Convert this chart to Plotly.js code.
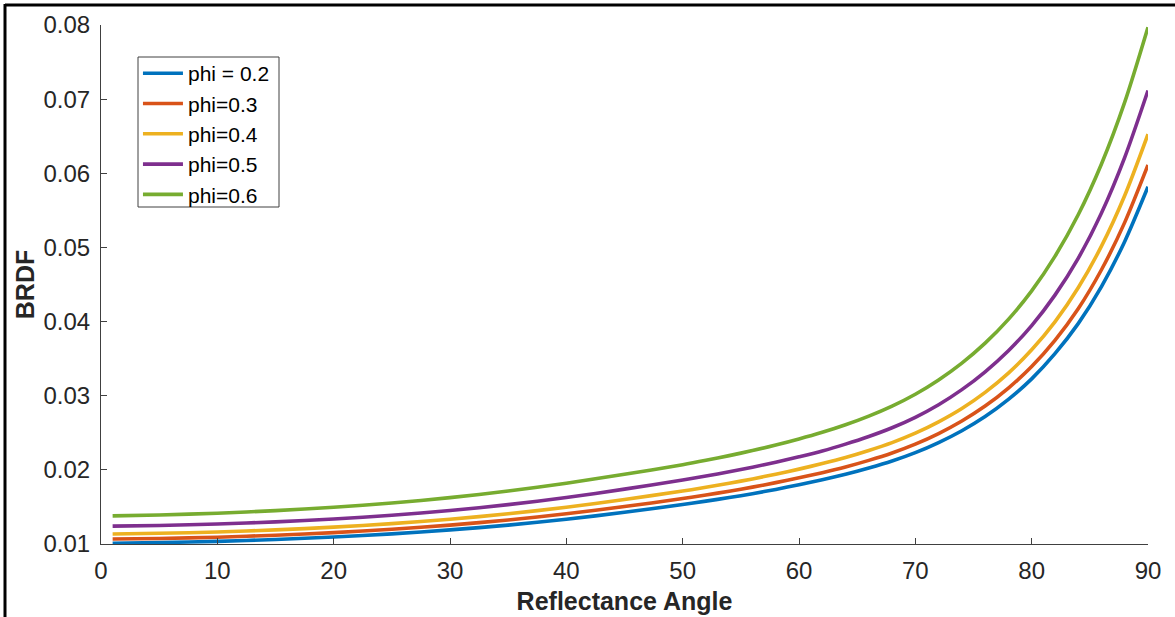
<!DOCTYPE html>
<html>
<head>
<meta charset="utf-8">
<script src="https://cdn.plot.ly/plotly-3.0.1.min.js"></script>
<style>
  html, body { margin: 0; padding: 0; background: #ffffff; }
  #chart { width: 1175px; height: 617px; }
</style>
</head>
<body>
<div id="chart"></div>
<script>
const angles = [1, 5, 10, 15, 20, 25, 30, 35, 40, 45, 50, 52, 54, 56, 58, 60, 62, 64, 66, 68, 70, 72, 74, 76, 78, 80, 82, 84, 86, 88, 90];

const seriesNames = ["phi = 0.2", "phi=0.3", "phi=0.4", "phi=0.5", "phi=0.6"];

const brdfPhi02 = [0.01010, 0.01019, 0.01036, 0.01061, 0.01094, 0.01137, 0.01190, 0.01255, 0.01334, 0.01428, 0.01532, 0.01578, 0.01626, 0.01679, 0.01736, 0.01800, 0.01867, 0.01940, 0.02025, 0.02119, 0.02232, 0.02368, 0.02528, 0.02719, 0.02950, 0.03227, 0.03567, 0.03972, 0.04472, 0.05081, 0.05818];
const brdfPhi03 = [0.01067, 0.01075, 0.01092, 0.01119, 0.01154, 0.01199, 0.01255, 0.01324, 0.01407, 0.01505, 0.01613, 0.01661, 0.01712, 0.01767, 0.01828, 0.01892, 0.01962, 0.02039, 0.02128, 0.02228, 0.02347, 0.02490, 0.02659, 0.02860, 0.03103, 0.03394, 0.03747, 0.04173, 0.04699, 0.05338, 0.06113];
const brdfPhi04 = [0.01134, 0.01144, 0.01162, 0.01190, 0.01227, 0.01275, 0.01334, 0.01408, 0.01496, 0.01601, 0.01714, 0.01765, 0.01819, 0.01878, 0.01942, 0.02010, 0.02085, 0.02167, 0.02262, 0.02368, 0.02495, 0.02648, 0.02828, 0.03045, 0.03305, 0.03619, 0.03996, 0.04456, 0.05017, 0.05700, 0.06527];
const brdfPhi05 = [0.01241, 0.01250, 0.01269, 0.01299, 0.01338, 0.01388, 0.01451, 0.01531, 0.01627, 0.01740, 0.01863, 0.01916, 0.01975, 0.02036, 0.02103, 0.02177, 0.02255, 0.02347, 0.02450, 0.02568, 0.02709, 0.02879, 0.03082, 0.03323, 0.03607, 0.03946, 0.04357, 0.04853, 0.05464, 0.06215, 0.07117];
const brdfPhi06 = [0.01380, 0.01392, 0.01415, 0.01450, 0.01495, 0.01553, 0.01625, 0.01715, 0.01820, 0.01940, 0.02070, 0.02129, 0.02192, 0.02260, 0.02334, 0.02416, 0.02506, 0.02608, 0.02725, 0.02860, 0.03020, 0.03213, 0.03440, 0.03709, 0.04030, 0.04414, 0.04879, 0.05441, 0.06126, 0.06960, 0.07970];

const seriesValues = [brdfPhi02, brdfPhi03, brdfPhi04, brdfPhi05, brdfPhi06];
const seriesColors = ["#0072BD", "#D95319", "#EDB120", "#7E2F8E", "#77AC30"];

const xTickVals = [0, 10, 20, 30, 40, 50, 60, 70, 80, 90];
const yTickVals = [0.01, 0.02, 0.03, 0.04, 0.05, 0.06, 0.07, 0.08];

const traces = seriesValues.map((vals, i) => ({
  type: "scatter",
  mode: "lines",
  x: angles,
  y: vals,
  name: seriesNames[i],
  line: { color: seriesColors[i], width: 3.6, shape: "spline", smoothing: 0.8 }
}));

const fontFam = "Liberation Sans, Arial, Helvetica, sans-serif";

const layout = {
  width: 1175,
  height: 617,
  paper_bgcolor: "#ffffff",
  plot_bgcolor: "#ffffff",
  margin: { l: 101, r: 27, t: 25, b: 73 },
  font: { family: fontFam, color: "#262626" },
  showlegend: true,
  legend: {
    x: 0.0353, y: 0.946, xanchor: "left", yanchor: "top",
    bgcolor: "rgba(0,0,0,0)", borderwidth: 0,
    font: { family: fontFam, size: 21, color: "#000000" },
    itemwidth: 40
  },
  xaxis: {
    range: [0, 90],
    tickvals: xTickVals,
    ticktext: xTickVals.map(String),
    ticks: "inside", ticklen: 6, tickcolor: "#404040", tickwidth: 1,
    ticklabelstandoff: 5,
    showline: true, linecolor: "#404040", linewidth: 1,
    showgrid: false, zeroline: false,
    tickfont: { family: fontFam, size: 24, color: "#262626" },
    title: { text: "Reflectance Angle", font: { family: fontFam, size: 25, color: "#262626", weight: "bold" }, standoff: 9 }
  },
  yaxis: {
    range: [0.01, 0.08],
    tickvals: yTickVals,
    ticktext: yTickVals.map(v => v.toFixed(2)),
    ticks: "inside", ticklen: 6, tickcolor: "#404040", tickwidth: 1,
    ticklabelstandoff: 5,
    showline: true, linecolor: "#404040", linewidth: 1,
    showgrid: false, zeroline: false,
    tickfont: { family: fontFam, size: 24, color: "#262626" },
    title: { text: "BRDF", font: { family: fontFam, size: 25, color: "#262626", weight: "bold" }, standoff: 1 }
  },
  shapes: [
    { type: "rect", xref: "paper", yref: "paper",
      x0: (138 - 101) / 1047, x1: (279 - 101) / 1047,
      y0: (544 - 207) / 519, y1: (544 - 57) / 519,
      fillcolor: "#ffffff", line: { color: "#404040", width: 1 }, layer: "above" },
    { type: "line", xref: "paper", yref: "paper",
      x0: (5 - 101) / 1047, x1: (1176 - 101) / 1047,
      y0: (544 - 5) / 519, y1: (544 - 5) / 519,
      line: { color: "#000000", width: 3 } },
    { type: "line", xref: "paper", yref: "paper",
      x0: (5 - 101) / 1047, x1: (5 - 101) / 1047,
      y0: (544 - 4) / 519, y1: (544 - 618) / 519,
      line: { color: "#000000", width: 3 } }
  ]
};

Plotly.newPlot("chart", traces, layout, { displayModeBar: false, staticPlot: true });
</script>
</body>
</html>
